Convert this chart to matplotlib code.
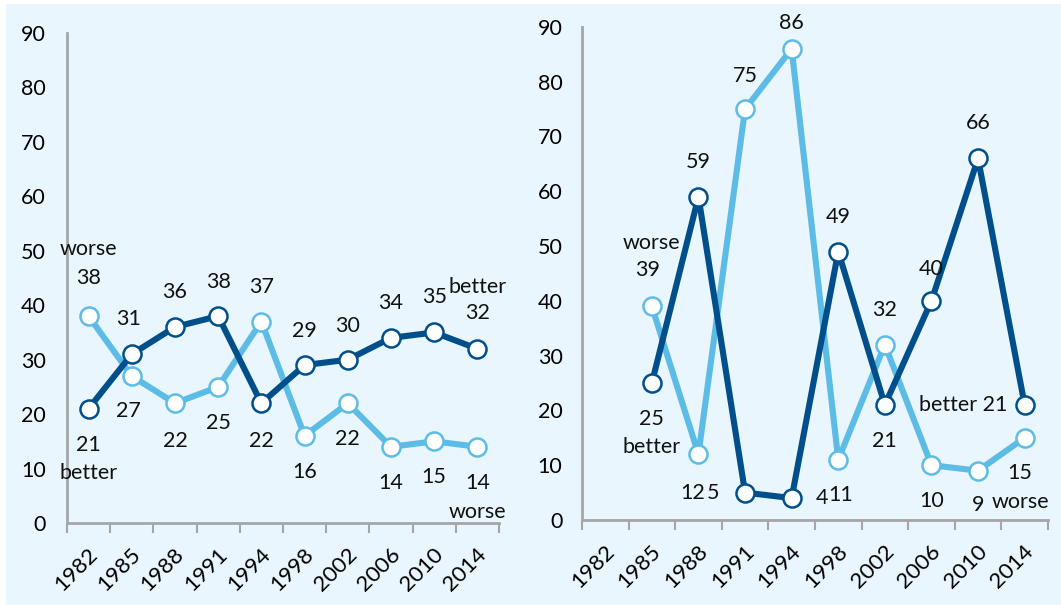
import matplotlib.pyplot as plt
import matplotlib.transforms as mtransforms
from matplotlib.patches import Rectangle

years = ['1982', '1985', '1988', '1991', '1994', '1998', '2002', '2006', '2010', '2014']

# left panel
left_better = [21, 31, 36, 38, 22, 29, 30, 34, 35, 32]
left_worse = [38, 27, 22, 25, 37, 16, 22, 14, 15, 14]

# right panel (no value for 1982)
right_better = [None, 25, 59, 5, 4, 49, 21, 40, 66, 21]
right_worse = [None, 39, 12, 75, 86, 11, 32, 10, 9, 15]

DARK = '#004f8b'
LIGHT = '#5dbce6'
BG = '#e9f6fd'
GREY = '#a6a6a6'
FS = 15.5

plt.rcParams['font.family'] = ['Lato', 'DejaVu Sans']

fig = plt.figure(figsize=(10.61, 6.05), dpi=100)
fig.patch.set_facecolor('white')
fig.patches.append(Rectangle((6 / 1061, 0), 1, 1 - 4 / 605, transform=fig.transFigure,
                             facecolor=BG, edgecolor='none', zorder=-10))

ax1 = fig.add_axes([0.0631, 0.1355, 0.4072, 0.810])
ax2 = fig.add_axes([0.5485, 0.1405, 0.4392, 0.815])


def style(ax, pad):
    ax.set_facecolor('none')
    ax.set_xlim(-0.5, 9.5)
    ax.set_ylim(0, 90)
    ax.set_yticks(range(0, 91, 10))
    ax.set_xticks(range(10))
    ax.set_xticklabels(years, rotation=45, ha='right')
    ax.set_xticks([i - 0.5 for i in range(11)], minor=True)
    ax.tick_params(axis='x', which='major', length=0, pad=15, labelsize=16)
    ax.tick_params(axis='x', which='minor', length=7, width=1.5, color=GREY, direction='out')
    ax.tick_params(axis='y', length=0, pad=pad, labelsize=FS)
    for s in ['top', 'right']:
        ax.spines[s].set_visible(False)
    for s in ['left', 'bottom']:
        ax.spines[s].set_color(GREY)
        ax.spines[s].set_linewidth(2)
    shift = mtransforms.ScaledTranslation(0.13, 0, fig.dpi_scale_trans)
    for lab in ax.get_xticklabels():
        lab.set_transform(lab.get_transform() + shift)


def draw(ax, better, worse):
    xs_b = [i for i, v in enumerate(better) if v is not None]
    ys_b = [v for v in better if v is not None]
    xs_w = [i for i, v in enumerate(worse) if v is not None]
    ys_w = [v for v in worse if v is not None]
    ax.plot(xs_w, ys_w, color=LIGHT, lw=4.4, marker='o', ms=13, mfc='white', mec=LIGHT, mew=1.8, zorder=3)
    ax.plot(xs_b, ys_b, color=DARK, lw=4.4, marker='o', ms=13, mfc='white', mec=DARK, mew=1.8, zorder=4)
    return xs_b, ys_b, xs_w, ys_w


def label(ax, x, y, text, dx, dy, ha='center'):
    ax.annotate(text, (x, y), xytext=(dx, dy), textcoords='offset pixels',
                ha=ha, va='center', fontsize=FS, color='#111111', zorder=6)


style(ax1, 15)
style(ax2, 14)

# left panel
xb, yb, xw, yw = draw(ax1, left_better, left_worse)
left_b_off = [(0, -36), (-3, 35), (0, 35), (0, 34), (0, -38), (0, 34), (0, 34), (0, 35), (0, 35), (0, 36)]
left_w_off = [(0, 38), (-3, -35), (0, -38), (0, -36), (0, 35), (0, -36), (0, -36), (0, -36), (0, -36), (0, -36)]
for x, y, (dx, dy) in zip(xb, yb, left_b_off):
    label(ax1, x, y, str(y), dx, dy)
for x, y, (dx, dy) in zip(xw, yw, left_w_off):
    label(ax1, x, y, str(y), dx, dy)
label(ax1, 0, left_better[0], 'better', 0, -64)
label(ax1, 0, left_worse[0], 'worse', 0, 67)
label(ax1, 9, left_better[9], 'better', 0, 62)
label(ax1, 9, left_worse[9], 'worse', 0, -65)

# right panel
xb, yb, xw, yw = draw(ax2, right_better, right_worse)
right_b_off = [(0, -36), (0, 35), (-32, 0), (30, 0), (0, 35), (0, -36), (0, 32), (0, 35), None]
right_w_off = [(-4, 36), (-6, -39), (0, 33), (0, 26), (2, -35), (0, 35), (0, -36), (0, -34), (-5, -35)]
for x, y, off in zip(xb, yb, right_b_off):
    if off is not None:
        label(ax2, x, y, str(y), off[0], off[1])
for x, y, (dx, dy) in zip(xw, yw, right_w_off):
    label(ax2, x, y, str(y), dx, dy)
label(ax2, 1, right_better[1], 'better', 0, -64)
label(ax2, 1, right_worse[1], 'worse', 0, 63)
label(ax2, 9, right_better[9], 'better ' + str(right_better[9]), -17, 0, ha='right')
label(ax2, 9, right_worse[9], 'worse', -4, -64)

fig.savefig('out.png', dpi=100, facecolor=fig.get_facecolor())
